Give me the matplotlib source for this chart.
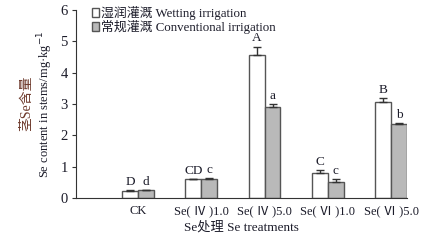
import matplotlib
matplotlib.use("Agg")
import matplotlib.pyplot as plt
import numpy as np
from matplotlib.patches import Rectangle

categories = ["CK", "Se( Ⅳ )1.0", "Se( Ⅳ )5.0", "Se( Ⅵ )1.0", "Se( Ⅵ )5.0"]
wetting = [0.22, 0.60, 4.55, 0.79, 3.06]
wetting_err = [0.02, 0.01, 0.28, 0.10, 0.12]
conventional = [0.24, 0.62, 2.91, 0.50, 2.35]
conventional_err = [0.01, 0.02, 0.08, 0.10, 0.05]
wetting_letters = ["D", "CD", "A", "C", "B"]
conventional_letters = ["d", "c", "a", "c", "b"]
legend_labels = ["湿润灌溉 Wetting irrigation", "常规灌溉 Conventional irrigation"]

fam = ["Liberation Serif", "Noto Sans CJK SC"]
plt.rcParams["font.family"] = fam
txt = "#1c1c2a"
W, H = 434, 244

fig = plt.figure(figsize=(4.34, 2.44), dpi=100)
ax = fig.add_axes([76/W, 1-198/H, (407-76)/W, (198-10)/H])

x = np.arange(1, len(categories)+1)
w = 0.25
edge = "#555555"
grey = "#b9b9b9"
ax.bar(x - w/2, wetting, w, color="white", edgecolor=edge, linewidth=1.0, zorder=2)
ax.bar(x + w/2, conventional, w, color=grey, edgecolor=edge, linewidth=1.0, zorder=2)
for xi, v, e in zip(x - w/2, wetting, wetting_err):
    ax.errorbar(xi, v + e/2, yerr=[[e/2], [e/2]], fmt="none", ecolor="#333333",
                elinewidth=1.0, capsize=3, capthick=1.0, zorder=3)
for xi, v, e in zip(x + w/2, conventional, conventional_err):
    ax.errorbar(xi, v + e/2, yerr=[[e/2], [e/2]], fmt="none", ecolor="#333333",
                elinewidth=1.0, capsize=3, capthick=1.0, zorder=3)
for xi, v, e, l in zip(x - w/2, wetting, wetting_err, wetting_letters):
    ax.text(xi, v + e + 0.07, l, ha="center", va="bottom", fontsize=9.5, color=txt)
for xi, v, e, l in zip(x + w/2, conventional, conventional_err, conventional_letters):
    ax.text(xi, v + e + 0.07, l, ha="center", va="bottom", fontsize=9.5, color=txt)

ax.set_xlim(0.02, 5.25)
ax.set_ylim(0, 6)
ax.set_yticks(range(0, 7))
ax.set_xticks(x)
ax.set_xticklabels(categories)
ax.tick_params(axis="x", length=0, pad=5, labelsize=9, labelcolor=txt)
ax.tick_params(axis="y", length=3, direction="out", pad=3, labelsize=10.5, labelcolor=txt, color="#333333")
for s in ["top", "right"]:
    ax.spines[s].set_visible(False)
ax.spines["left"].set_color("#333333")
ax.spines["bottom"].set_color("#333333")

ax.set_xlabel("Se处理 Se treatments", fontsize=9.5, color=txt, labelpad=3)

fig.text(27/W, 1-103/H, "茎Se含量", rotation=90, ha="center", va="center",
         fontsize=10, color="#6e3a2c")
fig.text(45/W, 1-104/H, "Se content in stems/mg·kg$^{-1}$", rotation=90,
         ha="center", va="center", fontsize=9, color=txt)

# manual legend
for i, (lab, fc) in enumerate(zip(legend_labels, ["white", grey])):
    yc = 12.5 + 14 * i
    fig.add_artist(Rectangle((92/W, 1-(yc+4)/H), 7/W, 8/H, transform=fig.transFigure,
                             facecolor=fc, edgecolor=edge, linewidth=1.0))
    fig.text(101/W, 1-yc/H, lab, ha="left", va="center", fontsize=9.3, color=txt)

fig.savefig("out.png", dpi=100)
